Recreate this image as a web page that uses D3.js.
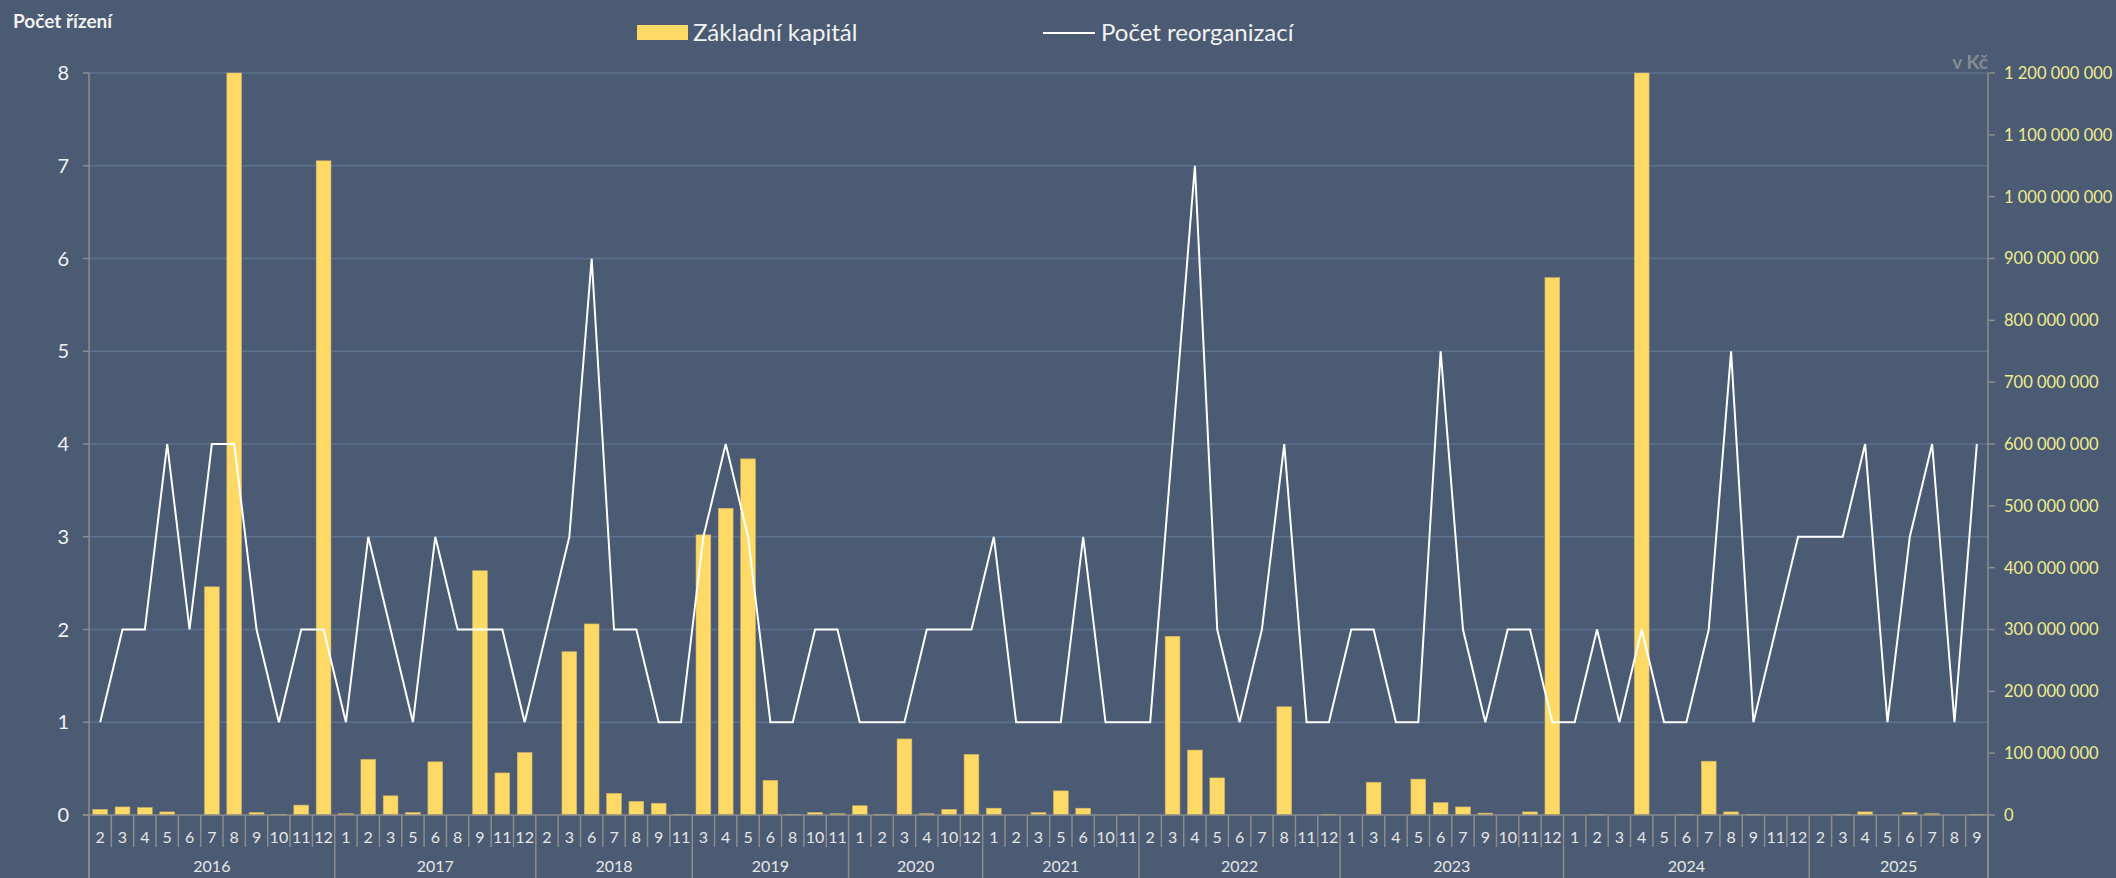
<!DOCTYPE html>
<html lang="cs">
<head>
<meta charset="utf-8">
<script src="https://cdn.jsdelivr.net/npm/d3@7"></script>
<style>
  html, body { margin: 0; padding: 0; background: #4b5b73; }
  svg { display: block; font-family: Lato, "Open Sans", sans-serif; }
</style>
</head>
<body>
<div id="chart"></div>
<script>
const years = ["2016", "2017", "2018", "2019", "2020", "2021", "2022", "2023", "2024", "2025"];

const monthsByYear = [
  [2, 3, 4, 5, 6, 7, 8, 9, 10, 11, 12],
  [1, 2, 3, 5, 6, 8, 9, 11, 12],
  [2, 3, 6, 7, 8, 9, 11],
  [3, 4, 5, 6, 8, 10, 11],
  [1, 2, 3, 4, 10, 12],
  [1, 2, 3, 5, 6, 10, 11],
  [2, 3, 4, 5, 6, 7, 8, 11, 12],
  [1, 3, 4, 5, 6, 7, 9, 10, 11, 12],
  [1, 2, 3, 4, 5, 6, 7, 8, 9, 11, 12],
  [2, 3, 4, 5, 6, 7, 8, 9],
];

// Počet reorganizací (left axis)
const reorganizace = [
  1, 2, 2, 4, 2, 4, 4, 2, 1, 2, 2,
  1, 3, 2, 1, 3, 2, 2, 2, 1,
  2, 3, 6, 2, 2, 1, 1,
  3, 4, 3, 1, 1, 2, 2,
  1, 1, 1, 2, 2, 2,
  3, 1, 1, 1, 3, 1, 1,
  1, 4, 7, 2, 1, 2, 4, 1, 1,
  2, 2, 1, 1, 5, 2, 1, 2, 2, 1,
  1, 2, 1, 2, 1, 1, 2, 5, 1, 2, 3,
  3, 3, 4, 1, 3, 4, 1, 4,
];

// Základní kapitál v Kč (right axis)
const kapital = [
  9e6, 13e6, 12e6, 5e6, 0, 369e6, 1200e6, 4e6, 1e6, 16e6, 1058e6,
  2e6, 90e6, 31e6, 4e6, 86e6, 0, 395e6, 68e6, 101e6,
  0, 264e6, 309e6, 35e6, 22e6, 19e6, 1e6,
  453e6, 496e6, 576e6, 56e6, 1e6, 4e6, 2e6,
  15e6, 1e6, 123e6, 2e6, 9e6, 98e6,
  11e6, 0, 4e6, 39e6, 11e6, 0, 1e6,
  0, 289e6, 105e6, 60e6, 0, 0, 175e6, 0, 1e6,
  0, 53e6, 0, 58e6, 20e6, 13e6, 3e6, 0, 5e6, 869e6,
  0, 1e6, 0, 1200e6, 0, 1e6, 87e6, 5e6, 1e6, 0, 0,
  0, 1e6, 5e6, 0, 4e6, 2e6, 0, 1e6,
];

const leftTicks = [0, 1, 2, 3, 4, 5, 6, 7, 8];
const rightTicks = d3.range(0, 1200000001, 100000000);

const attrs = {
  width: 2116,
  height: 878,
  left: 89,
  right: 1988,
  top: 73,
  bottom: 815,
  background: "#4b5b73",
  gridColor: "#5b7190",
  axisColor: "#8c8c8c",
  barColor: "#ffd966",
  lineColor: "#ffffff",
  rightLabelColor: "#f0ec8e",
};

let svg, x, yLeft, yRight, categories;

function main() {
  transformData();
  setScales();
  drawContainer();
  drawGrid();
  drawBars();
  drawLine();
  drawAxes();
  drawLegend();
}

function transformData() {
  categories = [];
  monthsByYear.forEach((months, yi) => {
    months.forEach((m) => {
      const i = categories.length;
      categories.push({
        index: i,
        year: years[yi],
        month: m,
        count: reorganizace[i],
        capital: kapital[i],
      });
    });
  });
}

function setScales() {
  x = d3
    .scaleBand()
    .domain(categories.map((d) => d.index))
    .range([attrs.left, attrs.right])
    .paddingInner(0.34)
    .paddingOuter(0.17);

  yLeft = d3.scaleLinear([0, 8], [attrs.bottom, attrs.top]);
  yRight = d3.scaleLinear([0, 1200000000], [attrs.bottom, attrs.top]);
}

function drawContainer() {
  svg = d3
    .select("#chart")
    .append("svg")
    .attr("width", attrs.width)
    .attr("height", attrs.height);

  svg
    .append("rect")
    .attr("width", attrs.width)
    .attr("height", attrs.height)
    .attr("fill", attrs.background);
}

function drawGrid() {
  svg
    .append("g")
    .attr("class", "grid")
    .selectAll("line")
    .data(leftTicks.filter((d) => d > 0))
    .join("line")
    .attr("x1", attrs.left)
    .attr("x2", attrs.right)
    .attr("y1", (d) => yLeft(d))
    .attr("y2", (d) => yLeft(d))
    .attr("stroke", attrs.gridColor)
    .attr("stroke-width", 1.3);
}

function drawBars() {
  svg
    .append("g")
    .attr("class", "bars")
    .selectAll("rect")
    .data(categories.filter((d) => d.capital > 0))
    .join("rect")
    .attr("x", (d) => x(d.index))
    .attr("width", x.bandwidth())
    .attr("y", (d) => yRight(Math.min(d.capital, 1200000000)))
    .attr("height", (d) => attrs.bottom - yRight(Math.min(d.capital, 1200000000)))
    .attr("fill", attrs.barColor)
    .attr("stroke", "#cdb466")
    .attr("stroke-width", 0.6);
}

function drawLine() {
  const line = d3
    .line()
    .x((d) => x(d.index) + x.bandwidth() / 2)
    .y((d) => yLeft(d.count));

  svg
    .append("path")
    .datum(categories)
    .attr("d", line)
    .attr("fill", "none")
    .attr("stroke", attrs.lineColor)
    .attr("stroke-width", 2)
    .attr("stroke-linejoin", "miter");
}

function drawAxes() {
  const g = svg.append("g").attr("class", "axes");
  const step = x.step();
  const x0 = attrs.left;

  // baseline
  g.append("line")
    .attr("x1", x0 - 6)
    .attr("x2", attrs.right)
    .attr("y1", attrs.bottom)
    .attr("y2", attrs.bottom)
    .attr("stroke", attrs.axisColor)
    .attr("stroke-width", 1.5);

  // category separators and year separators
  const yearStarts = [];
  let k = 0;
  monthsByYear.forEach((months) => {
    yearStarts.push(k);
    k += months.length;
  });
  yearStarts.push(k);

  g.selectAll(".cat-tick")
    .data(d3.range(categories.length + 1))
    .join("line")
    .attr("class", "cat-tick")
    .attr("x1", (d) => x0 + d * step)
    .attr("x2", (d) => x0 + d * step)
    .attr("y1", attrs.bottom)
    .attr("y2", (d) => (yearStarts.includes(d) ? attrs.height : attrs.bottom + 32))
    .attr("stroke", attrs.axisColor)
    .attr("stroke-width", 1.5);

  // month labels
  g.selectAll(".cat-label")
    .data(categories)
    .join("text")
    .attr("class", "cat-label")
    .attr("x", (d) => x(d.index) + x.bandwidth() / 2)
    .attr("y", 843)
    .attr("text-anchor", "middle")
    .attr("fill", "#e6e6e6")
    .attr("font-size", 16)
    .text((d) => d.month);

  // year labels
  g.selectAll(".year-label")
    .data(years)
    .join("text")
    .attr("class", "year-label")
    .attr("x", (d, i) => x0 + ((yearStarts[i] + yearStarts[i + 1]) / 2) * step)
    .attr("y", 872)
    .attr("text-anchor", "middle")
    .attr("fill", "#e6e6e6")
    .attr("font-size", 16)
    .text((d) => d);

  // left axis
  g.append("line")
    .attr("x1", x0)
    .attr("x2", x0)
    .attr("y1", attrs.top)
    .attr("y2", attrs.height)
    .attr("stroke", attrs.axisColor)
    .attr("stroke-width", 1.5);

  g.selectAll(".left-tick")
    .data(leftTicks)
    .join("line")
    .attr("class", "left-tick")
    .attr("x1", x0 - 6)
    .attr("x2", x0)
    .attr("y1", (d) => yLeft(d))
    .attr("y2", (d) => yLeft(d))
    .attr("stroke", attrs.axisColor)
    .attr("stroke-width", 1.5);

  g.selectAll(".left-label")
    .data(leftTicks)
    .join("text")
    .attr("class", "left-label")
    .attr("x", 69)
    .attr("y", (d) => yLeft(d))
    .attr("dy", "0.36em")
    .attr("text-anchor", "end")
    .attr("fill", "#f2f2f2")
    .attr("font-size", 20)
    .text((d) => d);

  // right axis
  g.append("line")
    .attr("x1", attrs.right)
    .attr("x2", attrs.right)
    .attr("y1", attrs.top)
    .attr("y2", attrs.height)
    .attr("stroke", attrs.axisColor)
    .attr("stroke-width", 1.5);

  g.selectAll(".right-tick")
    .data(rightTicks)
    .join("line")
    .attr("class", "right-tick")
    .attr("x1", attrs.right)
    .attr("x2", attrs.right + 7)
    .attr("y1", (d) => yRight(d))
    .attr("y2", (d) => yRight(d))
    .attr("stroke", attrs.axisColor)
    .attr("stroke-width", 1.5);

  const fmt = (v) => d3.format(",")(v).replace(/,/g, " ");

  g.selectAll(".right-label")
    .data(rightTicks)
    .join("text")
    .attr("class", "right-label")
    .attr("x", 2004)
    .attr("y", (d) => yRight(d))
    .attr("dy", "0.36em")
    .attr("fill", attrs.rightLabelColor)
    .attr("font-size", 16.5)
    .text(fmt);

  // axis titles
  svg.append("text")
    .attr("x", 13)
    .attr("y", 28)
    .attr("fill", "#f2f2f2")
    .attr("font-size", 19)
    .attr("font-weight", "bold")
    .text("Počet řízení");

  svg.append("text")
    .attr("x", 1988)
    .attr("y", 69)
    .attr("text-anchor", "end")
    .attr("fill", "#868b93")
    .attr("font-size", 19)
    .attr("font-weight", "bold")
    .text("v Kč");
}

function drawLegend() {
  const g = svg.append("g").attr("class", "legend");

  g.append("rect")
    .attr("x", 637)
    .attr("y", 25)
    .attr("width", 51)
    .attr("height", 15)
    .attr("fill", attrs.barColor);

  g.append("text")
    .attr("x", 693)
    .attr("y", 41)
    .attr("fill", "#f2f2f2")
    .attr("font-size", 24)
    .text("Základní kapitál");

  g.append("line")
    .attr("x1", 1043)
    .attr("x2", 1095)
    .attr("y1", 33)
    .attr("y2", 33)
    .attr("stroke", attrs.lineColor)
    .attr("stroke-width", 2);

  g.append("text")
    .attr("x", 1101)
    .attr("y", 41)
    .attr("fill", "#f2f2f2")
    .attr("font-size", 24)
    .text("Počet reorganizací");
}

main();
</script>
</body>
</html>
